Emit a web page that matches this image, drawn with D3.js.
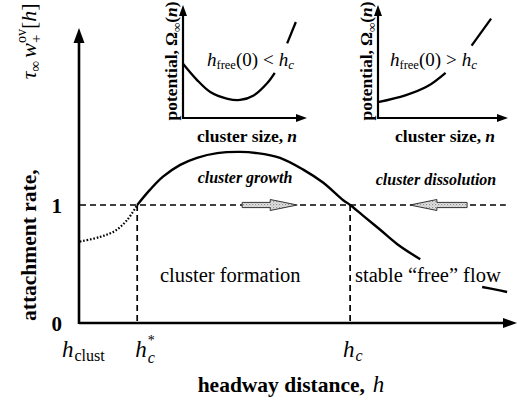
<!DOCTYPE html>
<html>
<head>
<meta charset="utf-8">
<script src="https://cdn.jsdelivr.net/npm/d3@7"></script>
<style>
  body { margin: 0; background: #fff; }
  svg { display: block; font-family: "Liberation Serif", "Times New Roman", serif; }
</style>
</head>
<body>
<svg id="chart" width="517" height="405"></svg>
<script>
// ---- attachment rate vs. headway distance ----
// dotted branch below the critical headway h_c*
const formationH    = [0, 0.47, 0.81, 1.09, 1.33];
const formationRate = [0.69, 0.73, 0.78, 0.87, 1.0];
// solid branch from h_c* through the maximum and past h_c
const mainH    = [1.33, 1.63, 1.93, 2.33, 2.72, 3.19, 3.72, 4.12, 4.65, 5.19, 5.65, 6.12, 6.28, 6.58, 6.98, 7.37, 7.91];
const mainRate = [1.0, 1.13, 1.24, 1.34, 1.40, 1.44, 1.45, 1.44, 1.40, 1.30, 1.19, 1.04, 1.0, 0.91, 0.79, 0.67, 0.54];
// short continuation after the "free flow" label
const tailH    = [9.35, 9.64, 9.93];
const tailRate = [0.305, 0.285, 0.263];

const rateTicks = [0, 1];
const hClust = 0, hCritStar = 1.33, hCrit = 6.28;
// flow direction arrows on the rate = 1 line: [tail, tip]
const flowArrows = [[3.77, 5.05], [9.0, 7.67]];

// ---- inset potentials Omega(n) ----
const lowN      = [0, 0.11, 0.22, 0.36, 0.46, 0.57, 0.68, 0.74];
const lowOmega  = [0.48, 0.34, 0.23, 0.17, 0.16, 0.20, 0.31, 0.40];
const lowTailN  = [0.84, 0.91];
const lowTailOmega = [0.66, 0.85];
const highN     = [0, 0.21, 0.38, 0.52];
const highOmega = [0.14, 0.20, 0.28, 0.40];
const highTailN = [0.72, 0.87];
const highTailOmega = [0.64, 0.88];

const svg = d3.select('#chart');

// fill pattern for the flow arrows
const defs = svg.append('defs');
const pat = defs.append('pattern').attr('id', 'grain')
  .attr('width', 3).attr('height', 3).attr('patternUnits', 'userSpaceOnUse');
pat.append('rect').attr('width', 3).attr('height', 3).attr('fill', '#e4e4e4');
pat.append('rect').attr('x', 0).attr('y', 0).attr('width', 1.2).attr('height', 1.2).attr('fill', '#8a8a8a');
pat.append('rect').attr('x', 1.5).attr('y', 1.5).attr('width', 1.2).attr('height', 1.2).attr('fill', '#b0b0b0');

// text helper: one <text> per formula, one <tspan> per piece;
// stacked pieces (sub + superscript) share the same x position
function styleSpan(s, p) {
  return s.attr('font-size', p.size || 20)
    .attr('font-style', p.italic ? 'italic' : 'normal')
    .attr('font-weight', p.bold ? 'bold' : 'normal');
}
function mathText(parent, x, y, parts, anchor, rotate) {
  const g = parent.append('g');
  const text = g.append('text').attr('fill', '#000');
  let cx = 0;
  parts.forEach(p => {
    const group = p.stack || [p];
    let w = 0;
    group.forEach(q => {
      const s = styleSpan(text.append('tspan'), q)
        .attr('x', cx + (q.dx || 0)).attr('y', q.dy || 0).text(q.t);
      w = Math.max(w, s.node().getComputedTextLength() + (q.dx || 0) + (q.after || 0));
    });
    cx += w;
  });
  const shift = anchor === 'middle' ? -cx / 2 : anchor === 'end' ? -cx : 0;
  text.attr('transform', `translate(${shift},0)`);
  g.attr('transform', `translate(${x},${y})` + (rotate ? ` rotate(${rotate})` : ''));
  return cx;
}

function arrowHead(g, x, y, dir, len, half) {
  const pts = dir === 'up'
    ? [[x, y], [x - half, y + len], [x + half, y + len]]
    : [[x, y], [x - len, y - half], [x - len, y + half]];
  g.append('path').attr('d', d3.line()(pts) + 'Z').attr('fill', '#000');
}

// ---------------- main chart ----------------
const x = d3.scaleLinear().domain([0, 10.16]).range([80, 517]);
const y = d3.scaleLinear().domain([0, 2.5]).range([323, 28]);
const main = svg.append('g');

// y tick labels via axis
const yAxis = main.append('g').attr('transform', `translate(${x(0) - 15},0)`)
  .call(d3.axisLeft(y).tickValues(rateTicks).tickSize(0).tickFormat(d3.format('d')));
yAxis.select('.domain').remove();
yAxis.selectAll('text').attr('font-family', '"Liberation Serif", serif')
  .attr('font-size', 21).attr('font-weight', 'bold').attr('fill', '#000')
  .attr('dy', '0.38em');

// dashed reference lines
const dash = { stroke: '#000', 'stroke-width': 1.7, 'stroke-dasharray': '6,4', fill: 'none' };
function styled(sel, o) { Object.entries(o).forEach(([k, v]) => sel.attr(k, v)); return sel; }
styled(main.append('line').attr('x1', x(0)).attr('x2', x(9.9)).attr('y1', y(1)).attr('y2', y(1)), dash);
[hCritStar, hCrit].forEach(h => {
  styled(main.append('line').attr('x1', x(h)).attr('x2', x(h)).attr('y1', y(1)).attr('y2', y(0)), dash);
});

// axes with arrowheads
main.append('line').attr('x1', x(0) - 1).attr('x2', x.range()[1] - 8).attr('y1', y(0)).attr('y2', y(0))
  .attr('stroke', '#000').attr('stroke-width', 2.6);
main.append('line').attr('x1', x(0) - 1).attr('x2', x(0) - 1).attr('y1', y(0) + 1).attr('y2', y.range()[1] + 10)
  .attr('stroke', '#000').attr('stroke-width', 2.6);
arrowHead(main, x(0) - 1, y.range()[1], 'up', 15, 5.5);
arrowHead(main, x.range()[1], y(0), 'right', 14, 5);

// curves
const line = d3.line().x(d => x(d[0])).y(d => y(d[1])).curve(d3.curveCatmullRom.alpha(0.5));
main.append('path').attr('d', line(d3.zip(formationH, formationRate)))
  .attr('fill', 'none').attr('stroke', '#000').attr('stroke-width', 2.2).attr('stroke-dasharray', '1.6,1.8');
main.append('path').attr('d', line(d3.zip(mainH, mainRate)))
  .attr('fill', 'none').attr('stroke', '#000').attr('stroke-width', 2.4);
main.append('path').attr('d', line(d3.zip(tailH, tailRate)))
  .attr('fill', 'none').attr('stroke', '#000').attr('stroke-width', 2.4);

// flow arrows
flowArrows.forEach(([from, to]) => {
  const x0 = x(from), x1 = x(to), yy = y(1);
  const s = Math.sign(x1 - x0), headLen = 27, shaftH = 2.6, headH = 5.5;
  const xb = x1 - s * headLen;
  const pts = [[x0, yy - shaftH], [xb, yy - shaftH], [xb, yy - headH], [x1, yy],
               [xb, yy + headH], [xb, yy + shaftH], [x0, yy + shaftH]];
  main.append('path').attr('d', d3.line()(pts) + 'Z')
    .attr('fill', 'url(#grain)').attr('stroke', '#333').attr('stroke-width', 1);
});

// region labels
main.append('text').attr('x', 245).attr('y', 183).attr('text-anchor', 'middle')
  .attr('font-size', 16).attr('font-weight', 'bold').attr('font-style', 'italic').text('cluster growth');
main.append('text').attr('x', 436).attr('y', 185).attr('text-anchor', 'middle')
  .attr('font-size', 16).attr('font-weight', 'bold').attr('font-style', 'italic').text('cluster dissolution');
main.append('text').attr('x', 160).attr('y', 282)
  .attr('font-size', 20.5).text('cluster formation');
main.append('text').attr('x', 355).attr('y', 282)
  .attr('font-size', 20.5).text('stable \u201cfree\u201d flow');

// x tick labels
mathText(main, x(hClust) - 18, 357, [
  { t: 'h', italic: true, size: 23, after: 1 },
  { t: 'clust', size: 16, dy: 4 }
]);
mathText(main, x(hCritStar) - 2, 357, [
  { t: 'h', italic: true, size: 23, after: 1 },
  { stack: [{ t: 'c', italic: true, size: 16, dy: 6 }, { t: '*', size: 14, dy: -12 }] }
]);
mathText(main, x(hCrit) - 7, 357, [
  { t: 'h', italic: true, size: 23, after: 1 },
  { t: 'c', italic: true, size: 16, dy: 4 }
]);

// x axis title
mathText(main, 291, 392, [
  { t: 'headway distance,', bold: true, size: 21.5, after: 8 },
  { t: 'h', italic: true, size: 23 }
], 'middle');

// y axis title (rotated)
mathText(main, 36, 321, [
  { t: 'attachment rate,', bold: true, size: 21.5, after: 90 },
  { t: '\u03c4', italic: true, size: 22 },
  { t: '\u221e', size: 15, dy: 4, after: 3 },
  { t: 'w', italic: true, size: 22 },
  { stack: [{ t: '+', size: 15, dy: 5 }, { t: 'ov', size: 14, dy: -10 }] },
  { t: '[', size: 22 },
  { t: 'h', italic: true, size: 22 },
  { t: ']', size: 22 }
], 'start', -90);

// ---------------- insets ----------------
function inset(x0, x1, nArr, oArr, tailN, tailO, relation, labelX) {
  const nx = d3.scaleLinear().domain([0, 1]).range([x0, x1]);
  const oy = d3.scaleLinear().domain([0, 1]).range([118, 5]);
  const g = svg.append('g');
  g.append('line').attr('x1', x0).attr('x2', x1 - 7).attr('y1', oy(0)).attr('y2', oy(0))
    .attr('stroke', '#000').attr('stroke-width', 2.2);
  g.append('line').attr('x1', x0).attr('x2', x0).attr('y1', oy(0) + 1).attr('y2', oy(1) + 7)
    .attr('stroke', '#000').attr('stroke-width', 2.2);
  arrowHead(g, x0, oy(1), 'up', 11, 4);
  arrowHead(g, x1, oy(0), 'right', 11, 4);
  const ln = d3.line().x(d => nx(d[0])).y(d => oy(d[1])).curve(d3.curveCatmullRom.alpha(0.5));
  g.append('path').attr('d', ln(d3.zip(nArr, oArr))).attr('fill', 'none').attr('stroke', '#000').attr('stroke-width', 2.3);
  g.append('path').attr('d', ln(d3.zip(tailN, tailO))).attr('fill', 'none').attr('stroke', '#000').attr('stroke-width', 2.3);
  // relation label
  mathText(g, labelX, 66, [
    { t: 'h', italic: true, size: 19 },
    { t: 'free', size: 12.5, dy: 3 },
    { t: '(0)', size: 19, after: 5 },
    { t: relation, size: 19, after: 5 },
    { t: 'h', italic: true, size: 19 },
    { t: 'c', italic: true, size: 13, dy: 3 }
  ]);
  // x title
  mathText(g, (x0 + x1) / 2 + 2, 142, [
    { t: 'cluster size,', bold: true, size: 17.5, after: 4 },
    { t: 'n', bold: true, italic: true, size: 17.5 }
  ], 'middle');
  // y title (rotated)
  mathText(g, x0 - 6, 61, [
    { t: 'potential,', bold: true, size: 17.5, after: 4 },
    { t: '\u03a9', bold: true, size: 17.5 },
    { t: '\u221e', bold: true, size: 13, dy: 4 },
    { t: '(', bold: true, size: 17.5 },
    { t: 'n', bold: true, italic: true, size: 17.5 },
    { t: ')', bold: true, size: 17.5 }
  ], 'middle', -90);
}
inset(183, 307, lowN, lowOmega, lowTailN, lowTailOmega, '<', 207);
inset(378, 508, highN, highOmega, highTailN, highTailOmega, '>', 390);
</script>
</body>
</html>
